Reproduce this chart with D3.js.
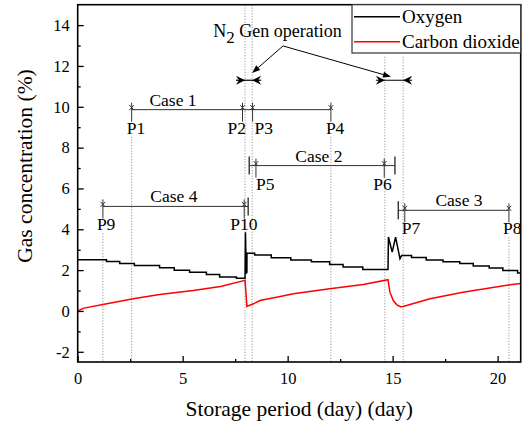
<!DOCTYPE html>
<html>
<head>
<meta charset="utf-8">
<script src="https://cdn.jsdelivr.net/npm/d3@7"></script>
<style>
  body { margin: 0; background: #fff; }
  svg text { font-family: "Liberation Serif", "Times New Roman", serif; fill: #000; }
</style>
</head>
<body>
<div id="chart"></div>
<script>
// Oxygen (%) over storage days (steps as repeated days)
const oxygen = [
  [0, 2.51], [1.37, 2.51], [1.37, 2.42], [2.0, 2.42], [2.0, 2.33], [2.7, 2.33], [2.7, 2.23],
  [3.9, 2.23], [3.9, 2.12], [4.6, 2.12], [4.6, 1.99], [5.33, 1.99], [5.33, 1.9], [6.13, 1.9],
  [6.13, 1.79], [6.76, 1.79], [6.76, 1.66], [7.56, 1.66], [7.56, 1.6], [7.97, 1.6],
  [7.99, 3.86], [8.03, 1.84], [8.06, 1.9], [8.06, 2.83], [8.43, 2.83], [8.43, 2.74],
  [9.22, 2.74], [9.22, 2.6], [10.15, 2.6], [10.15, 2.5], [11.13, 2.5], [11.13, 2.41],
  [12.0, 2.41], [12.0, 2.28], [12.64, 2.28], [12.64, 2.15], [13.58, 2.15], [13.58, 2.03],
  [14.78, 2.03], [14.8, 3.62], [14.98, 2.88], [15.14, 3.62], [15.35, 2.56], [15.43, 2.72],
  [15.9, 2.72], [15.9, 2.62], [16.6, 2.62], [16.6, 2.5], [17.4, 2.5], [17.4, 2.41],
  [18.2, 2.41], [18.2, 2.33], [18.84, 2.33], [18.84, 2.2], [19.6, 2.2], [19.6, 2.1],
  [20.25, 2.1], [20.25, 1.98], [20.95, 1.98], [20.95, 1.86], [21.1, 1.86]
];

// Carbon dioxide (%) over storage days
const carbonDioxide = [
  [0, 0.0], [0.3, 0.14], [1.2, 0.32], [2.64, 0.6], [3.9, 0.81], [5.5, 1.0], [6.8, 1.2],
  [7.97, 1.5], [8.06, 0.22], [8.37, 0.35], [8.68, 0.51], [9.47, 0.67], [10.27, 0.84],
  [12.0, 1.09], [13.6, 1.3], [14.78, 1.53], [14.87, 0.92], [15.03, 0.51], [15.2, 0.3],
  [15.38, 0.21], [15.5, 0.22], [16.78, 0.6], [18.35, 0.92], [20.6, 1.28], [21.1, 1.34]
];

const xMajorTicks = [0, 5, 10, 15, 20];
const xMinorTicks = [2.5, 7.5, 12.5, 17.5];
const yMajorTicks = [-2, 0, 2, 4, 6, 8, 10, 12, 14];
const yMinorTicks = [-1, 1, 3, 5, 7, 9, 11, 13];

// sampling points (day) and the level of the case bar they sit on
const samplePoints = [
  { name: "P1", day: 2.57, level: 9.86 },
  { name: "P2", day: 7.85, level: 9.86 },
  { name: "P3", day: 8.33, level: 9.86 },
  { name: "P4", day: 12.06, level: 9.86 },
  { name: "P5", day: 8.49, level: 7.12 },
  { name: "P6", day: 14.6, level: 7.12 },
  { name: "P7", day: 15.58, level: 4.93 },
  { name: "P8", day: 20.54, level: 4.93 },
  { name: "P9", day: 1.2, level: 5.12 },
  { name: "P10", day: 7.93, level: 5.12 }
];

const cases = [
  { name: "Case 1", from: 2.57, to: 12.06, level: 9.86, labelAt: 4.54, capFrom: false, capTo: false },
  { name: "Case 2", from: 8.17, to: 15.11, level: 7.12, labelAt: 11.49, capFrom: true, capTo: true },
  { name: "Case 3", from: 15.27, to: 20.54, level: 4.93, labelAt: 18.16, capFrom: true, capTo: false },
  { name: "Case 4", from: 1.2, to: 8.12, level: 5.12, labelAt: 4.58, capFrom: false, capTo: true }
];

// N2 generator running windows (day)
const genWindows = [[7.97, 8.31], [14.63, 15.5]];
const genLevel = 11.3;

const series = [
  { name: "Oxygen", data: oxygen, color: "#000000" },
  { name: "Carbon dioxide", data: carbonDioxide, color: "#ff0000" }
];

const svgW = 526, svgH = 427;
const margin = { top: 4.7, right: 5.3, bottom: 65, left: 77.7 };
const width = svgW - margin.left - margin.right;
const height = svgH - margin.top - margin.bottom;

const svg = d3.select("#chart").append("svg")
  .attr("width", svgW)
  .attr("height", svgH)
  .style("display", "block");

const g = svg.append("g")
  .attr("transform", `translate(${margin.left},${margin.top})`);

const x = d3.scaleLinear().domain([0, 21.1]).range([0, width]);
const y = d3.scaleLinear().domain([-2.5, 15]).range([height, 0]);

// dotted guide lines
const dotted = g.append("g")
  .attr("stroke", "#999")
  .attr("stroke-width", 1)
  .attr("stroke-dasharray", "1.2,1.6");

samplePoints.filter(d => ["P1", "P4", "P8", "P9"].includes(d.name)).forEach(d => {
  dotted.append("line")
    .attr("x1", x(d.day)).attr("x2", x(d.day))
    .attr("y1", y(d.level) + 27).attr("y2", height);
});
genWindows.forEach((w, i) => {
  const top = i === 0 ? 0 : 52;
  w.forEach(day => {
    dotted.append("line")
      .attr("x1", x(day)).attr("x2", x(day))
      .attr("y1", top).attr("y2", height);
  });
});

// axes (ticks inward)
g.append("g")
  .attr("transform", `translate(0,${height})`)
  .call(d3.axisBottom(x).tickValues(xMajorTicks).tickSize(-6).tickPadding(10).tickFormat(d3.format("d")));
g.append("g")
  .attr("transform", `translate(0,${height})`)
  .call(d3.axisBottom(x).tickValues(xMinorTicks).tickSize(-3).tickFormat(""));
const yAxis = g.append("g")
  .call(d3.axisLeft(y).tickValues(yMajorTicks).tickSize(-6).tickPadding(8).tickFormat(d3.format("d")));
g.append("g")
  .call(d3.axisLeft(y).tickValues(yMinorTicks).tickSize(-3).tickFormat(""));

g.selectAll(".domain").remove();
g.selectAll(".tick line").attr("stroke", "#000").attr("stroke-width", 1.3);
g.selectAll(".tick text").attr("font-size", "16.5px");
yAxis.selectAll(".tick text").text(d => d < 0 ? "-" + Math.abs(d) : d);

// data lines
const line = d3.line()
  .x(d => x(d[0]))
  .y(d => y(d[1]));

series.forEach(s => {
  g.append("path")
    .datum(s.data)
    .attr("fill", "none")
    .attr("stroke", s.color)
    .attr("stroke-width", 1.5)
    .attr("d", line);
});

// case bars
const ann = g.append("g").attr("stroke", "#333").attr("stroke-width", 1);
cases.forEach(c => {
  const cy = y(c.level);
  ann.append("line")
    .attr("x1", x(c.from)).attr("x2", x(c.to))
    .attr("y1", cy).attr("y2", cy);
  if (c.capFrom) {
    ann.append("line").attr("x1", x(c.from)).attr("x2", x(c.from))
      .attr("y1", cy - 9).attr("y2", cy + 9).attr("stroke-width", 1.4);
  }
  if (c.capTo) {
    ann.append("line").attr("x1", x(c.to)).attr("x2", x(c.to))
      .attr("y1", cy - 9).attr("y2", cy + 9).attr("stroke-width", 1.4);
  }
  g.append("text")
    .attr("x", x(c.labelAt))
    .attr("y", cy - 4)
    .attr("text-anchor", "middle")
    .attr("font-size", "17.5px")
    .text(c.name);
});

// sample point markers
const labelShift = { P1: -5, P2: -15, P3: 2, P4: -5, P5: 0, P6: -11, P7: -3, P8: -6, P9: -6, P10: -14 };
samplePoints.forEach(p => {
  const px = x(p.day), py = y(p.level);
  ann.append("line")
    .attr("x1", px).attr("x2", px)
    .attr("y1", py - 7).attr("y2", py + 12);
  ann.append("path")
    .attr("fill", "none")
    .attr("d", `M${px - 2.3},${py - 4.5}L${px + 2.3},${py + 0.5}M${px + 2.3},${py - 4.5}L${px - 2.3},${py + 0.5}`);
  g.append("text")
    .attr("x", px + labelShift[p.name])
    .attr("y", py + 24)
    .attr("font-size", "17.5px")
    .text(p.name);
});

// N2 generator windows: inward arrows
const gy = y(genLevel);
genWindows.forEach(w => {
  const a = x(w[0]), b = x(w[1]);
  g.append("line")
    .attr("x1", a - 9).attr("x2", b + 9)
    .attr("y1", gy).attr("y2", gy)
    .attr("stroke", "#000").attr("stroke-width", 1.2);
  g.append("path")
    .attr("fill", "#000")
    .attr("d", `M${a},${gy}L${a - 9},${gy - 4.5}L${a - 6},${gy}L${a - 9},${gy + 4.5}Z`);
  g.append("path")
    .attr("fill", "#000")
    .attr("d", `M${b},${gy}L${b + 9},${gy - 4.5}L${b + 6},${gy}L${b + 9},${gy + 4.5}Z`);
});

// callout text and pointers
const genLabel = g.append("text")
  .attr("x", x(6.46))
  .attr("y", y(13.42))
  .attr("font-size", "18px");
genLabel.append("tspan").text("N");
genLabel.append("tspan").attr("dy", 6).attr("font-size", "17px").text("2");
genLabel.append("tspan").attr("dy", -6).text(" Gen operation");

const pointerFrom = [9.78, 12.98];
const pointerTo = [[8.31, 11.66], [14.92, 11.47]];
pointerTo.forEach(t => {
  const x0 = x(pointerFrom[0]), y0 = y(pointerFrom[1]);
  const x1 = x(t[0]), y1 = y(t[1]);
  const ang = Math.atan2(y1 - y0, x1 - x0);
  const len = 8, half = 3;
  const bx = x1 - len * Math.cos(ang), by = y1 - len * Math.sin(ang);
  g.append("line")
    .attr("x1", x0).attr("y1", y0).attr("x2", bx).attr("y2", by)
    .attr("stroke", "#000").attr("stroke-width", 1);
  g.append("path")
    .attr("fill", "#000")
    .attr("d", `M${x1},${y1}L${bx - half * Math.sin(ang)},${by + half * Math.cos(ang)}L${bx + half * Math.sin(ang)},${by - half * Math.cos(ang)}Z`);
});

// frame
g.append("rect")
  .attr("width", width)
  .attr("height", height)
  .attr("fill", "none")
  .attr("stroke", "#000")
  .attr("stroke-width", 1.6);

// legend
const legend = g.append("g").attr("transform", `translate(${width - 168.7},0)`);
legend.append("rect")
  .attr("width", 168.7)
  .attr("height", 48.3)
  .attr("fill", "#fff")
  .attr("stroke", "#333")
  .attr("stroke-width", 1.2);
series.forEach((s, i) => {
  const ly = 12 + i * 25;
  legend.append("line")
    .attr("x1", 2).attr("x2", 48)
    .attr("y1", ly).attr("y2", ly)
    .attr("stroke", s.color).attr("stroke-width", 1.5);
  legend.append("text")
    .attr("x", 50)
    .attr("y", ly + 6.5)
    .attr("font-size", "19px")
    .text(s.name);
});

// axis titles
svg.append("text")
  .attr("x", margin.left + width / 2)
  .attr("y", 416)
  .attr("text-anchor", "middle")
  .attr("font-size", "21.5px")
  .text("Storage period (day) (day)");

svg.append("text")
  .attr("transform", "translate(32,166) rotate(-90)")
  .attr("text-anchor", "middle")
  .attr("font-size", "21.5px")
  .text("Gas concentration (%)");
</script>
</body>
</html>
